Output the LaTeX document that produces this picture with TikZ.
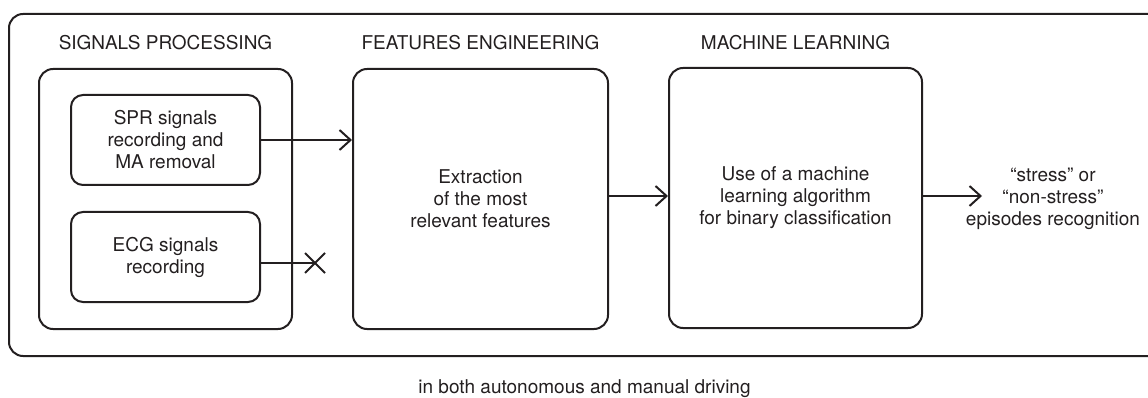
\documentclass[tikz,border=0pt]{standalone}
\usepackage{fontspec}
\setmainfont{TeX Gyre Heros}
\usetikzlibrary{arrows.meta}
\definecolor{ink}{HTML}{231F20}
\tikzset{
  box/.style={draw=ink, line width=2pt, rounded corners=14pt, align=center, inner sep=0pt},
  lbl/.style={text=ink, align=center, inner sep=0pt, font=\fontsize{19}{22}\selectfont},
  conn/.style={draw=ink, line width=2pt, -{Straight Barb[length=11pt,width=20pt,line width=2pt]}},
  plain/.style={draw=ink, line width=2pt},
}
\begin{document}
\begin{tikzpicture}[x=1pt,y=-1pt]
\useasboundingbox (0,0) rectangle (1148,398);
\clip (0,0) rectangle (1148,398);
\node[box, minimum width=1170pt, minimum height=342pt, anchor=north west] (outer) at (8,13) {};
\node[box, minimum width=253pt, minimum height=260pt] (sp) at (165.5,199) {};
\node[box, minimum width=189pt, minimum height=90pt, rounded corners=12pt, lbl] (spr) at (165.5,140) {SPR signals\\recording and\\MA removal};
\node[box, minimum width=189pt, minimum height=90pt, rounded corners=12pt, lbl] (ecg) at (165.5,257) {ECG signals\\recording};
\node[box, minimum width=255pt, minimum height=260pt, lbl] (fe) at (480.5,199) {Extraction\\of the most\\relevant features};
\node[box, minimum width=253pt, minimum height=260pt, lbl] (ml) at (795.5,198) {Use of a machine\\learning algorithm\\for binary classification};
\node[lbl, anchor=base] (t1) at (165.5,50) {SIGNALS PROCESSING};
\node[lbl, anchor=base] (t2) at (480.5,50) {FEATURES ENGINEERING};
\node[lbl, anchor=base] (t3) at (795.5,50) {MACHINE LEARNING};
\node[lbl] (out) at (1053,199) {“stress” or\\“non-stress”\\episodes recognition};
\node[lbl, anchor=base] (bot) at (584.5,393) {in both autonomous and manual driving};
\coordinate (x) at (315,263);
\draw[conn] (spr.east) -- (spr.east -| fe.west);
\draw[conn] (fe.east |- 0,196) -- (ml.west |- 0,196);
\draw[conn] (ml.east |- 0,196) -- (982,196);
\draw[plain] (ecg.east |- x) -- (x);
\draw[plain] ([shift={(-10,-10)}]x) -- ([shift={(10,10)}]x);
\draw[plain] ([shift={(-10,10)}]x) -- ([shift={(10,-10)}]x);
\end{tikzpicture}
\end{document}
